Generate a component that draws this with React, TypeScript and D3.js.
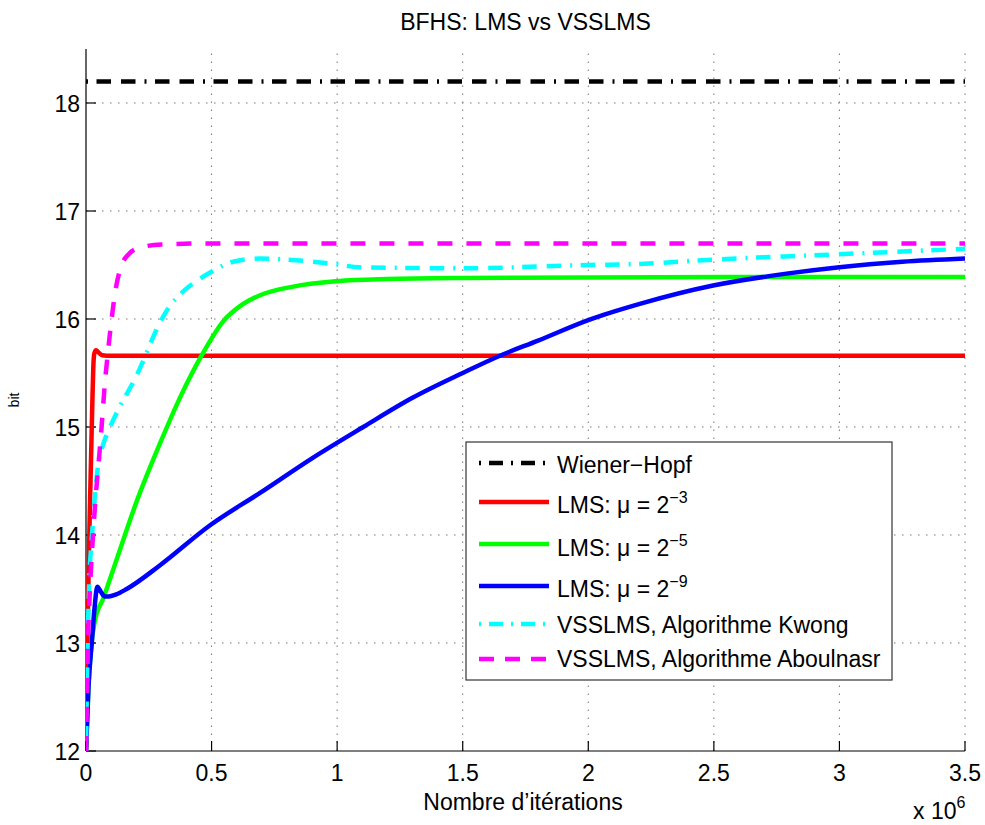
import React from 'react';
import * as d3 from 'd3';

// ---- data (iterations in millions, values in bit) ----
const xTicks = [0, 0.5, 1, 1.5, 2, 2.5, 3, 3.5];
const yTicks = [12, 13, 14, 15, 16, 17, 18];
const xTickLabels = ['0', '0.5', '1', '1.5', '2', '2.5', '3', '3.5'];

const wienerIter = [0, 3.5];
const wienerBit = [18.2, 18.2];

const lms3Iter = [0, 0.005, 0.01, 0.015, 0.02, 0.025, 0.029, 0.033, 0.04, 0.05, 0.065, 0.1, 3.5];
const lms3Bit = [12, 12.9, 13.6, 14.2, 14.7, 15.2, 15.55, 15.68, 15.71, 15.69, 15.665, 15.66, 15.66];

const lms5Iter = [0, 0.01, 0.02, 0.035, 0.07, 0.12, 0.2, 0.295, 0.38, 0.46, 0.547, 0.62, 0.693, 0.825, 1.0, 1.2, 1.5, 2.0, 3.5];
const lms5Bit = [12, 12.6, 12.95, 13.2, 13.42, 13.76, 14.3, 14.85, 15.3, 15.66, 15.98, 16.13, 16.22, 16.3, 16.35, 16.37, 16.38, 16.385, 16.39];

const lms9Iter = [0, 0.01, 0.023, 0.035, 0.045, 0.06, 0.075, 0.09, 0.12, 0.162, 0.295, 0.494, 0.693, 0.9, 1.104, 1.3, 1.5, 1.648, 1.8, 2.0, 2.205, 2.497, 2.789, 3.0, 3.25, 3.5];
const lms9Bit = [12, 12.6, 13.0, 13.35, 13.52, 13.47, 13.43, 13.43, 13.45, 13.5, 13.72, 14.09, 14.39, 14.71, 15.0, 15.27, 15.5, 15.66, 15.8, 15.99, 16.14, 16.31, 16.42, 16.48, 16.53, 16.56];

const kwongIter = [0, 0.005, 0.012, 0.024, 0.035, 0.049, 0.07, 0.096, 0.135, 0.2, 0.235, 0.265, 0.295, 0.334, 0.38, 0.427, 0.494, 0.586, 0.693, 0.8, 0.984, 1.09, 1.5, 2.0, 2.2, 2.5, 3.0, 3.5];
const kwongBit = [12, 12.8, 13.5, 14.0, 14.35, 14.66, 14.85, 15.0, 15.19, 15.47, 15.65, 15.82, 15.97, 16.12, 16.24, 16.33, 16.43, 16.53, 16.56, 16.55, 16.51, 16.48, 16.47, 16.5, 16.51, 16.55, 16.6, 16.65];

const aboulIter = [0, 0.008, 0.018, 0.028, 0.04, 0.05, 0.062, 0.075, 0.09, 0.102, 0.12, 0.142, 0.17, 0.215, 0.3, 0.5, 3.5];
const aboulBit = [12, 13.0, 13.6, 14.0, 14.4, 14.66, 15.0, 15.4, 15.75, 16.0, 16.3, 16.5, 16.6, 16.66, 16.69, 16.7, 16.7];

const legendLabels = ['Wiener\u2212Hopf', 'LMS: \u03bc = 2', 'LMS: \u03bc = 2', 'LMS: \u03bc = 2', 'VSSLMS, Algorithme Kwong', 'VSSLMS, Algorithme Aboulnasr'];
const legendExponents = ['', '\u22123', '\u22125', '\u22129', '', ''];

// ---- layout ----
const W = 985, H = 825;
const L = 86, R = 965, T = 49, B = 751;
const FONT = 'Liberation Sans, Arial, Helvetica, sans-serif';
const DASHDOT = '2 8.5 14.5 10 14.5 9';

export default function App() {
  const x = d3.scaleLinear().domain([0, 3.5]).range([L, R]);
  const y = d3.scaleLinear().domain([12, 18.5]).range([B, T]);
  const mk = (xs: number[], ys: number[], curve: any = d3.curveMonotoneX) =>
    d3.line<number>().x((_, i) => x(xs[i])).y((v) => y(v)).curve(curve)(ys) as string;

  const series = [
    { d: mk(wienerIter, wienerBit, d3.curveLinear), color: '#000000', dash: DASHDOT, legendDash: '2 8 14 8', w: 4.5 },
    { d: mk(lms3Iter, lms3Bit), color: '#ff0000', dash: undefined, legendDash: undefined, w: 4.5 },
    { d: mk(lms5Iter, lms5Bit), color: '#00ff00', dash: undefined, legendDash: undefined, w: 4.5 },
    { d: mk(lms9Iter, lms9Bit), color: '#0000ff', dash: undefined, legendDash: undefined, w: 4.5 },
    { d: mk(kwongIter, kwongBit), color: '#00ffff', dash: DASHDOT, legendDash: '2 8 14 8', w: 4.5 },
    { d: mk(aboulIter, aboulBit), color: '#ff00ff', dash: '15 14', legendDash: '15 11', w: 4.5 },
  ];

  const legendLineY = [463, 502, 544, 586, 624, 659];
  const legendTextY = [473, 513, 555.5, 597, 633, 667];

  return (
    <svg width={W} height={H} style={{ position: 'absolute', left: 0, top: 0, background: '#fff' }} fontFamily={FONT}>
      <rect x={0} y={0} width={W} height={H} fill="#fff" />
      <defs>
        <clipPath id="plotclip">
          <rect x={L} y={T} width={R - L} height={B - T} />
        </clipPath>
      </defs>
      {/* grid */}
      <g stroke="#777" strokeWidth={1} strokeDasharray="1.5 6.5">
        {xTicks.filter((t) => t > 0).map((t) => (
          <line key={'gx' + t} x1={x(t)} x2={x(t)} y1={B} y2={T} />
        ))}
        {yTicks.filter((t) => t > 12).map((t) => (
          <line key={'gy' + t} x1={L} x2={R} y1={y(t)} y2={y(t)} />
        ))}
      </g>
      {/* axes */}
      <g stroke="#000" strokeWidth={1.2}>
        <line x1={L} x2={L} y1={T} y2={B} />
        <line x1={L} x2={R} y1={B} y2={B} />
        {xTicks.map((t) => (
          <line key={'tx' + t} x1={x(t)} x2={x(t)} y1={B} y2={B - 10} />
        ))}
        {yTicks.map((t) => (
          <line key={'ty' + t} x1={L} x2={L + 10} y1={y(t)} y2={y(t)} />
        ))}
      </g>
      {xTicks.map((t, i) => (
        <text key={'lx' + t} x={x(t)} y={781} fontSize={23} textAnchor="middle" fill="#000">{xTickLabels[i]}</text>
      ))}
      {yTicks.map((t) => (
        <text key={'ly' + t} x={80} y={y(t) + 8.5} fontSize={23} textAnchor="end" fill="#000">{t}</text>
      ))}
      {/* series */}
      <g clipPath="url(#plotclip)" fill="none">
        {series.map((s, i) => (
          <path key={'s' + i} d={s.d} stroke={s.color} strokeWidth={s.w} strokeDasharray={s.dash} strokeLinejoin="round" />
        ))}
      </g>
      {/* titles */}
      <text x={(L + R) / 2} y={30} fontSize={23} textAnchor="middle" fill="#000">BFHS: LMS vs VSSLMS</text>
      <text x={523} y={810} fontSize={23} textAnchor="middle" fill="#000">Nombre d’itérations</text>
      <text x={913} y={819} fontSize={23} fill="#000">x 10<tspan dy={-11} fontSize={16}>6</tspan></text>
      <text transform={`translate(19,${(T + B) / 2}) rotate(-90)`} fontSize={14} textAnchor="middle" fill="#000">bit</text>
      {/* legend */}
      <g>
        <rect x={466} y={442} width={426} height={238} fill="#fff" stroke="#333" strokeWidth={1.2} />
        {series.map((s, i) => (
          <g key={'lg' + i}>
            <line x1={479} x2={549} y1={legendLineY[i]} y2={legendLineY[i]} stroke={s.color} strokeWidth={s.w} strokeDasharray={s.legendDash} />
            <text x={557} y={legendTextY[i]} fontSize={23} fill="#000">
              {legendLabels[i]}
              {legendExponents[i] ? <tspan dy={-10} fontSize={16}>{legendExponents[i]}</tspan> : null}
            </text>
          </g>
        ))}
      </g>
    </svg>
  );
}
